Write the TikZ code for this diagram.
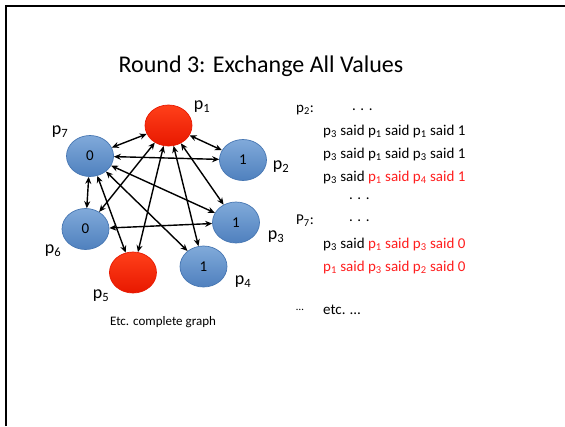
\documentclass[tikz,border=0pt]{standalone}
\usepackage{fontspec}
\setmainfont{Carlito}
\usetikzlibrary{shapes.geometric,arrows.meta}
\definecolor{ballblue}{HTML}{6A9BD3}
\definecolor{ballbluedark}{HTML}{4F80BE}
\definecolor{ballblueedge}{HTML}{4676B2}
\definecolor{ballred}{HTML}{FF2A00}
\definecolor{ballreddark}{HTML}{E81800}
\definecolor{msgred}{HTML}{FF1F1F}
\newcommand\ps[1]{p\textsubscript{#1}}
\newcommand\Ps[1]{P\textsubscript{#1}}
\tikzset{
  proc/.style={ellipse, minimum width=47pt, minimum height=41pt, inner sep=0pt,
    font=\fontsize{15}{17}\selectfont},
  bluep/.style={proc, draw=ballblueedge, line width=0.7pt,
    top color=ballblue!85!white, bottom color=ballbluedark},
  redp/.style={proc, draw=ballreddark, line width=0.7pt,
    top color=ballred!90!white, bottom color=ballreddark},
  plabel/.style={font=\fontsize{18}{20}\selectfont},
  link/.style={{Stealth[length=7pt,width=6pt]}-{Stealth[length=7pt,width=6pt]}, line width=1.4pt},
  msg/.style={anchor=west, font=\fontsize{15}{17}\selectfont, inner sep=0pt},
}
\begin{document}
\begin{tikzpicture}[x=1pt,y=-1pt]
\useasboundingbox (0,0) rectangle (565,426);
\fill[white] (0,0) rectangle (565,426);
% slide frame
\draw[line width=2pt] (6,426) -- (6,6) -- (565,6);

% title
\node (title) at (261,66) {\fontsize{24}{28}\selectfont Round 3: Exchange All Values};

% processes
\node[redp]  (p1) at (168.5,125.5) {};
\node[bluep] (p2) at (243,160) {1};
\node[bluep] (p3) at (236,222.5) {1};
\node[bluep] (p4) at (203.5,266.5) {1};
\node[redp]  (p5) at (133,272.5) {};
\node[bluep] (p6) at (85.5,229) {0};
\node[bluep] (p7) at (90,156) {0};

% process names
\node[plabel] (l1) at (202,107) {\ps{1}};
\node[plabel] (l2) at (281,167) {\ps{2}};
\node[plabel] (l3) at (276,237) {\ps{3}};
\node[plabel] (l4) at (243,282) {\ps{4}};
\node[plabel] (l5) at (101,296) {\ps{5}};
\node[plabel] (l6) at (53,251) {\ps{6}};
\node[plabel] (l7) at (60,132) {\ps{7}};

\node[font=\fontsize{13}{15}\selectfont] (cap) at (163,322) {Etc. complete graph};

% all-to-all exchange
\draw[link] (p1) -- (p2);
\draw[link] (p1) -- (p7);
\draw[link] (p1) -- (p6);
\draw[link] (p1) -- (p5);
\draw[link] (p1) -- (p4);
\draw[link] (p1) -- (p3);
\draw[link] (p7) -- (p2);
\draw[link] (p7) -- (p3);
\draw[link] (p7) -- (p4);
\draw[link] (p7) -- (p5);
\draw[link] (p7) -- (p6);
\draw[link] (p6) -- (p3);

% received chains
\node[msg] (h2) at (296,110) {\ps{2}:};
\node[msg] (d1) at (352,110) {. . .};
\node[msg] (m1) at (323,131) {\ps{3} said \ps{1} said \ps{1} said 1};
\node[msg] (m2) at (323,154) {\ps{3} said \ps{1} said \ps{3} said 1};
\node[msg] (m3) at (323,177) {\ps{3} said \textcolor{msgred}{\ps{1} said \ps{4} said 1}};
\node[msg] (d2) at (349,199) {. . .};
\node[msg] (h7) at (296,221) {\Ps{7}:};
\node[msg] (d3) at (349,221) {. . .};
\node[msg] (m4) at (323,244) {\ps{3} said \textcolor{msgred}{\ps{1} said \ps{3} said 0}};
\node[msg] (m5) at (323,267) {\textcolor{msgred}{\ps{1} said \ps{3} said \ps{2} said 0}};
\node[msg] (e1) at (296,310) {\fontsize{11}{13}\selectfont …};
\node[msg] (e2) at (323,310) {etc. …};
\end{tikzpicture}
\end{document}
